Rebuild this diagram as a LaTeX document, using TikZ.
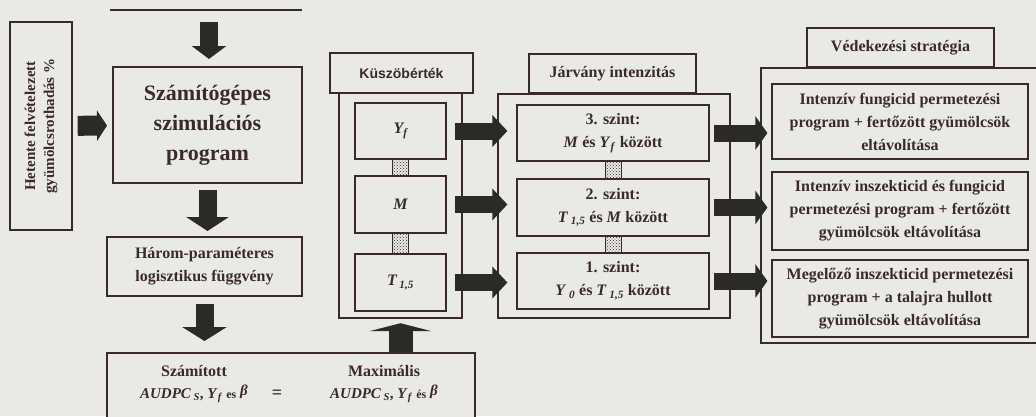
\documentclass[tikz,border=0pt]{standalone}
\usepackage{fontspec}
\setmainfont{Liberation Serif}
\newfontfamily\labelsans{Liberation Sans}
\usepackage{xcolor}
\usepackage{tikz}
\usetikzlibrary{arrows.meta,patterns}

\definecolor{paper}{RGB}{233,233,230}
\definecolor{ink}{RGB}{58,42,44}
\definecolor{arrowfill}{RGB}{44,41,41}

\begin{document}
\begin{tikzpicture}[x=1pt,y=-1pt,
    box/.style={draw=ink, line width=1.2pt, fill=paper, align=center, inner sep=0pt, text=ink,
                font=\bfseries\fontsize{16}{23}\selectfont},
    outerbox/.style={draw=ink, line width=2.4pt, inner sep=0pt},
    mathbox/.style={box, font=\bfseries\itshape\fontsize{16}{18}\selectfont, minimum width=91pt},
    link/.style={draw=ink, line width=0.6pt, pattern=crosshatch dots, pattern color=ink},
    blockarrow/.style={arrowfill, line width=18pt, -{Triangle[width=34pt,length=13pt]}},
  ]
    \useasboundingbox (0,0) rectangle (1036,416);
    \fill[paper] (0,0) rectangle (1036,416);

    % Input data and simulation
    \node[box, rotate=90, line width=1.4pt, minimum width=208pt, minimum height=62pt,
          font=\bfseries\fontsize{15}{19}\selectfont] (hetente) at (41,126)
          {Hetente felvételezett\\gyümölcsrothadás \%};
    \draw[ink, line width=1.2pt] (110,10) -- (302,10);
    \coordinate (prev) at (209,10);
    \node[box, line width=2pt, minimum width=189pt, minimum height=116pt,
          font=\bfseries\fontsize{22}{30}\selectfont] (sim) at (207.5,125)
          {Számítógépes\\szimulációs\\program};
    \node[box, line width=2pt, minimum width=195pt, minimum height=59pt] (logist) at (204.5,266.5)
          {Három-paraméteres\\logisztikus függvény};

    % Comparison of the AUDPC values
    \node[box, line width=2pt, minimum width=368pt, minimum height=65pt] (audpc) at (291,385.5) {};
    \node[align=center, text=ink, font=\bfseries\fontsize{15}{22}\selectfont] (szamitott) at (194,384)
          {{\fontsize{16}{22}\selectfont Számított}\\\textit{AUDPC}\,\textsubscript{\textit{S}}, \textit{Y}\textsubscript{\textit{f}} {\fontsize{12}{22}\selectfont es} \raisebox{3pt}{\textit{β}}};
    \node[text=ink, font=\bfseries\fontsize{18}{18}\selectfont] (egyenlo) at (277,394) {=};
    \node[align=center, text=ink, font=\bfseries\fontsize{15}{22}\selectfont] (maximalis) at (384,384)
          {{\fontsize{16}{22}\selectfont Maximális}\\\textit{AUDPC}\,\textsubscript{\textit{S}}, \textit{Y}\textsubscript{\textit{f}} {\fontsize{12}{22}\selectfont és} \raisebox{3pt}{\textit{β}}};

    % Threshold values
    \node[outerbox, minimum width=123pt, minimum height=225pt] (kusz) at (400.5,205.5) {};
    \node[box, line width=1.4pt, minimum width=143pt, minimum height=40pt,
          font=\labelsans\bfseries\fontsize{14}{16}\selectfont] (kuszlabel) at (401.5,73) {Küszöbérték};
    \node[mathbox, minimum height=56pt] (kyf) at (400.5,131) {Y\textsubscript{f}};
    \node[mathbox, minimum height=57pt] (km) at (400.5,204.5) {M};
    \node[mathbox, minimum height=57pt] (kt) at (400.5,282.5) {T\,\textsubscript{1,5}};
    \draw[link] ([xshift=-8pt]kyf.south) rectangle ([xshift=8pt]km.north);
    \draw[link] ([xshift=-8pt]km.south) rectangle ([xshift=8pt]kt.north);

    % Epidemic intensity
    \node[outerbox, minimum width=232pt, minimum height=224pt] (jarv) at (614,206) {};
    \node[box, line width=1.4pt, minimum width=167pt, minimum height=39pt] (jarvlabel) at (612.5,73.5)
          {Járvány intenzitás};
    \node[box, minimum width=192pt, minimum height=56pt] (j3) at (613,133)
          {3. szint:\\\textit{M} és \textit{Y}\textsubscript{\textit{f}} között};
    \node[box, minimum width=192pt, minimum height=57pt] (j2) at (613,207.5)
          {2. szint:\\\textit{T}\,\textsubscript{\textit{1,5}} és \textit{M} között};
    \node[box, minimum width=192pt, minimum height=56pt] (j1) at (613,281)
          {1. szint:\\\textit{Y}\,\textsubscript{\textit{0}} és \textit{T}\,\textsubscript{\textit{1,5}} között};
    \draw[link] ([xshift=-8pt]j3.south) rectangle ([xshift=8pt]j2.north);
    \draw[link] ([xshift=-8pt]j2.south) rectangle ([xshift=8pt]j1.north);

    % Protection strategy
    \node[outerbox, minimum width=284pt, minimum height=275pt] (ved) at (903,205.5) {};
    \node[box, line width=1.4pt, minimum width=187pt, minimum height=39pt] (vedlabel) at (900.5,47.5)
          {Védekezési stratégia};
    \node[box, minimum width=256pt, minimum height=75pt] (vA) at (900,121.5)
          {Intenzív fungicid permetezési\\program + fertőzött gyümölcsök\\eltávolítása};
    \node[box, minimum width=256pt, minimum height=78pt] (vB) at (900,211)
          {Intenzív inszekticid és fungicid\\permetezési program + fertőzött\\gyümölcsök eltávolítása};
    \node[box, minimum width=256pt, minimum height=77pt] (vC) at (900,298.5)
          {Megelőző inszekticid permetezési\\program + a talajra hullott\\gyümölcsök eltávolítása};

    % Flow arrows
    \draw[blockarrow, line width=20pt, -{Triangle[width=30pt,length=10pt]}, shorten <=5pt, shorten >=5pt] (hetente) -- (sim);
    \draw[blockarrow, shorten <=12pt, shorten >=7pt] (prev) -- (prev |- sim.north);
    \draw[blockarrow, -{Triangle[width=42pt,length=14pt]}, shorten <=6pt, shorten >=5pt] (sim.south) -- (sim.south |- logist.north);
    \draw[blockarrow, -{Triangle[width=44pt,length=14pt]}, shorten <=7pt, shorten >=11pt] (logist.south) -- (logist.south |- audpc.north);
    \draw[blockarrow, line width=24pt, -{Triangle[width=62pt,length=8pt]}, shorten >=4pt] (audpc.north -| kusz.south) -- (kusz.south);
    \foreach \k/\j in {kyf/j3, km/j2, kt/j1}
        \draw[blockarrow, line width=17pt, -{Triangle[width=31pt,length=15pt]}, shorten <=8pt, shorten >=9pt] (\k.east) -- (\k.east -| \j.west);
    \foreach \j/\v in {j3/vA, j2/vB, j1/vC}
        \draw[blockarrow, line width=17pt, -{Triangle[width=33pt,length=12pt]}, shorten <=4pt, shorten >=4pt] (\j.east) -- (\j.east -| \v.west);
\end{tikzpicture}
\end{document}
